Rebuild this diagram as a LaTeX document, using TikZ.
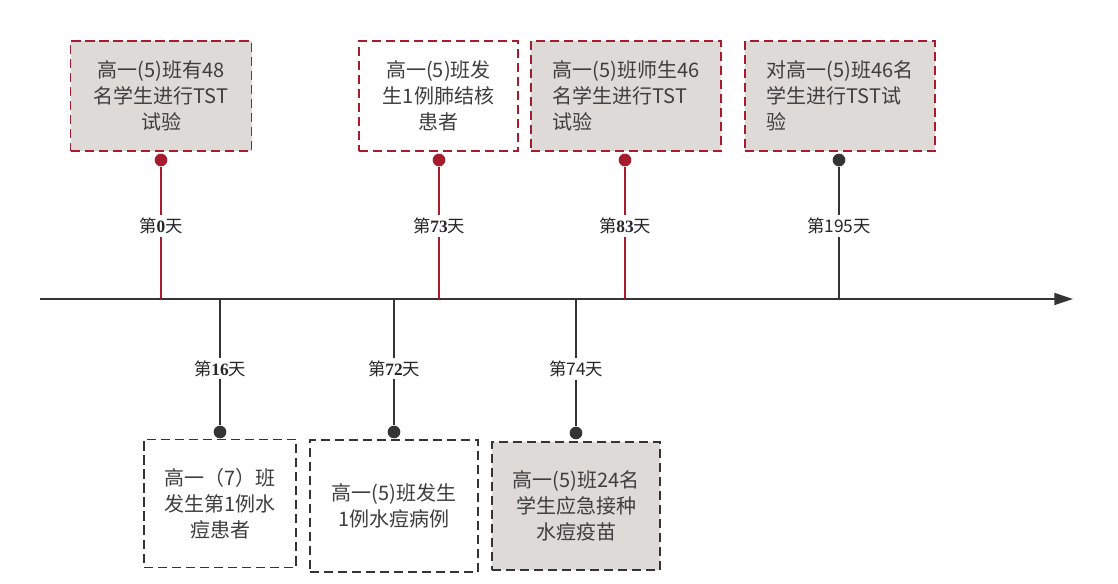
\documentclass[tikz,border=0pt]{standalone}
\usepackage{fontspec}
\setmainfont{Liberation Serif}
\newfontfamily\cjk{Noto Sans CJK SC}
\usepackage{xcolor}
\usetikzlibrary{arrows.meta,positioning}

\definecolor{evred}{RGB}{166,28,44}
\definecolor{evgray}{RGB}{222,218,216}
\definecolor{evline}{RGB}{52,52,52}
\definecolor{evtext}{RGB}{62,62,62}

% day label: CJK around bold serif digits
\newcommand{\daylab}[1]{{\cjk 第}\textbf{#1}{\cjk 天}}

\tikzset{
  evbox/.style={dashed,dash pattern=on 7pt off 3.5pt,line width=1.35pt,
    text=evtext,inner sep=0pt,font=\cjk\fontsize{15}{19.5}\selectfont},
  topbox/.style={evbox,draw=evred,minimum height=82.5pt},
  lowbox/.style={evbox,draw=evline,minimum height=96pt},
  reddot/.style={circle,fill=evred,inner sep=0pt,minimum size=9.5pt},
  blackdot/.style={circle,fill=evline,inner sep=0pt,minimum size=9.5pt},
  redstem/.style={draw=evred,line width=1.1pt},
  blackstem/.style={draw=evline,line width=1.1pt},
  daylabel/.style={fill=white,inner sep=2pt,text=black!85,font=\fontsize{13}{15}\selectfont},
  axis/.style={draw=evline,line width=1.2pt,-{Triangle[length=14pt,width=9pt]}}
}

\begin{document}
\begin{tikzpicture}[x=0.75pt,y=-0.75pt]
    \useasboundingbox (0,0) rectangle (1118,584);

    % Time axis
    \coordinate (axs) at (40,299);
    \coordinate (axe) at (1073,299);
    \draw[axis] (axs) -- (axe);

    % Events above the axis
    \node[topbox,fill=evgray,minimum width=135.75pt,align=center] (ev0) at (161,96)
        {高一(5)班有48\\名学生进行TST\\试验};
    \node[topbox,fill=white,minimum width=119.25pt,align=center] (ev73) at (438.5,96)
        {高一(5)班发\\生1例肺结核\\患者};
    \node[topbox,fill=evgray,minimum width=142.5pt,align=left] (ev83) at (626,96)
        {高一(5)班师生46\\名学生进行TST\\试验};
    \node[topbox,fill=evgray,minimum width=142.5pt,align=left] (ev195) at (840,96)
        {对高一(5)班46名\\学生进行TST试\\验};

    \node[reddot] (d0) at (161,160) {};
    \node[reddot] (d73) at (439,160) {};
    \node[reddot] (d83) at (625,160) {};
    \node[blackdot] (d195) at (839,160) {};

    \coordinate (a0) at (161,299);
    \coordinate (a73) at (439,299);
    \coordinate (a83) at (625,299);
    \coordinate (a195) at (839,299);

    \draw[redstem] (d0) -- (a0) node[pos=0.45,daylabel] {\daylab{0}};
    \draw[redstem] (d73) -- (a73) node[pos=0.45,daylabel] {\daylab{73}};
    \draw[redstem] (d83) -- (a83) node[pos=0.45,daylabel] {\daylab{83}};
    \draw[blackstem] (d195) -- (a195) node[pos=0.45,daylabel] {\cjk 第195天};

    % Events below the axis
    \node[lowbox,fill=white,minimum width=114pt,align=center] (ev16) at (220,503.5)
        {高一（7）班\\发生第1例水\\痘患者};
    \node[lowbox,fill=white,minimum width=126pt,minimum height=99pt,align=center] (ev72) at (394,506)
        {高一(5)班发生\\1例水痘病例};
    \node[lowbox,fill=evgray,minimum width=126pt,align=center] (ev74) at (576,506)
        {高一(5)班24名\\学生应急接种\\水痘疫苗};

    \node[blackdot] (d16) at (220,432) {};
    \node[blackdot] (d72) at (394,432) {};
    \node[blackdot] (d74) at (576,433) {};

    \coordinate (a16) at (220,299);
    \coordinate (a72) at (394,299);
    \coordinate (a74) at (576,299);

    \draw[blackstem] (a16) -- (d16) node[pos=0.55,daylabel] {\daylab{16}};
    \draw[blackstem] (a72) -- (d72) node[pos=0.55,daylabel] {\daylab{72}};
    \draw[blackstem] (a74) -- (d74) node[pos=0.55,daylabel] {\cjk 第74天};
\end{tikzpicture}
\end{document}
